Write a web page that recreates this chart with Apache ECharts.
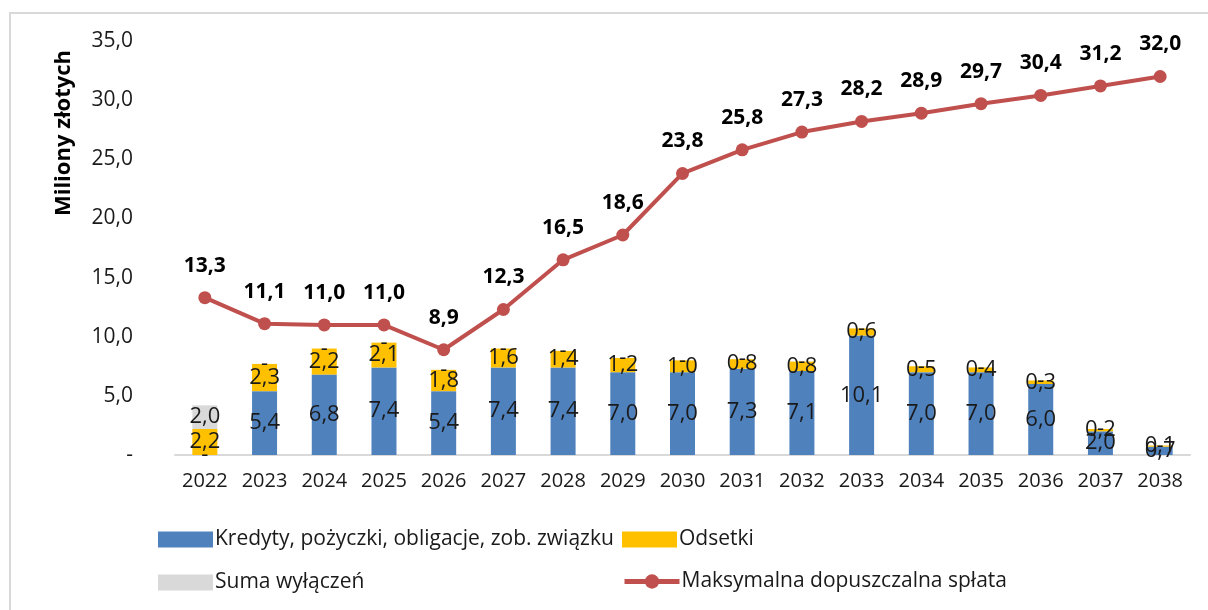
<!DOCTYPE html>
<html>
<head>
<meta charset="utf-8">
<script src="https://cdn.jsdelivr.net/npm/echarts@6/dist/echarts.min.js"></script>
<style>
html,body{margin:0;padding:0;background:#fff;}
#chart{width:1208px;height:610px;}
</style>
</head>
<body>
<div id="chart"></div>
<script>
const years = ['2022','2023','2024','2025','2026','2027','2028','2029','2030','2031','2032','2033','2034','2035','2036','2037','2038'];
const kredyty = [0, 5.4, 6.8, 7.4, 5.4, 7.4, 7.4, 7.0, 7.0, 7.3, 7.1, 10.1, 7.0, 7.0, 6.0, 2.0, 0.7];
const odsetki = [2.2, 2.3, 2.2, 2.1, 1.8, 1.6, 1.4, 1.2, 1.0, 0.8, 0.8, 0.6, 0.5, 0.4, 0.3, 0.2, 0.1];
const wylaczenia = [2.0, 0, 0, 0, 0, 0, 0, 0, 0, 0, 0, 0, 0, 0, 0, 0, 0];
const maksymalna = [13.3, 11.1, 11.0, 11.0, 8.9, 12.3, 16.5, 18.6, 23.8, 25.8, 27.3, 28.2, 28.9, 29.7, 30.4, 31.2, 32.0];

const names = ['Kredyty, pożyczki, obligacje, zob. związku', 'Odsetki', 'Suma wyłączeń', 'Maksymalna dopuszczalna spłata'];
const FONT = 'Open Sans';
const fmt = v => (v === 0 ? '-' : v.toFixed(1).replace('.', ','));

const barLabel = {
  show: true, position: 'inside', color: '#1a1a1a', fontFamily: FONT, fontSize: 22,
  formatter: p => fmt(p.value)
};

function legendAt(name, left, top, icon, h) {
  return {
    data: [{ name: name, icon: icon }], left: left, top: top, itemWidth: 55, itemHeight: h || 16,
    itemGap: 0, padding: 0, selectedMode: false,
    textStyle: { fontFamily: FONT, fontSize: 21, color: '#1a1a1a', padding: [0, 0, 0, -3] }
  };
}

const chart = echarts.init(document.getElementById('chart'), null, { renderer: 'canvas' });
chart.setOption({
  animation: false,
  backgroundColor: '#fff',
  textStyle: { fontFamily: FONT },
  grid: { left: 175, right: 18, top: 41, bottom: 155 },
  graphic: [
    { type: 'rect', shape: { x: 10, y: 13, width: 1220, height: 620 }, style: { fill: 'none', stroke: '#d9d9d9', lineWidth: 2 } },
    { type: 'text', x: 64, y: 133, rotation: Math.PI / 2,
      style: { text: 'Miliony złotych', font: 'bold 22px "Open Sans"', fill: '#000', align: 'center', verticalAlign: 'middle' } }
  ],
  legend: [
    legendAt(names[0], 158, 529, 'rect'),
    legendAt(names[1], 622, 529, 'rect'),
    legendAt(names[2], 158, 572, 'rect'),
    Object.assign(legendAt(names[3], 622, 571, undefined, 18), { lineStyle: { width: 5 } })
  ],
  xAxis: {
    type: 'category', data: years,
    axisLine: { lineStyle: { color: '#d9d9d9', width: 2 } },
    axisTick: { show: false },
    axisLabel: { interval: 0, color: '#1a1a1a', fontFamily: FONT, fontSize: 20, margin: 16 }
  },
  yAxis: {
    type: 'value', min: 0, max: 35, interval: 5,
    axisLine: { show: false }, axisTick: { show: false }, splitLine: { show: false },
    axisLabel: { color: '#1a1a1a', fontFamily: FONT, fontSize: 21, margin: 42, formatter: v => fmt(v) }
  },
  series: [
    { name: names[0], type: 'bar', stack: 's', data: kredyty, barWidth: 25,
      itemStyle: { color: '#4F81BD' }, label: barLabel },
    { name: names[1], type: 'bar', stack: 's', data: odsetki,
      itemStyle: { color: '#FFC000' }, label: barLabel },
    { name: names[2], type: 'bar', stack: 's', data: wylaczenia,
      itemStyle: { color: '#D9D9D9' }, label: barLabel },
    { name: names[3], type: 'line', data: maksymalna, z: 5,
      symbol: 'circle', symbolSize: 13,
      lineStyle: { color: '#C0504D', width: 4 }, itemStyle: { color: '#C0504D' },
      label: { show: true, position: 'top', distance: 15, color: '#000', fontFamily: FONT,
               fontWeight: 'bold', fontSize: 21, formatter: p => fmt(p.value) } }
  ]
});
</script>
</body>
</html>
